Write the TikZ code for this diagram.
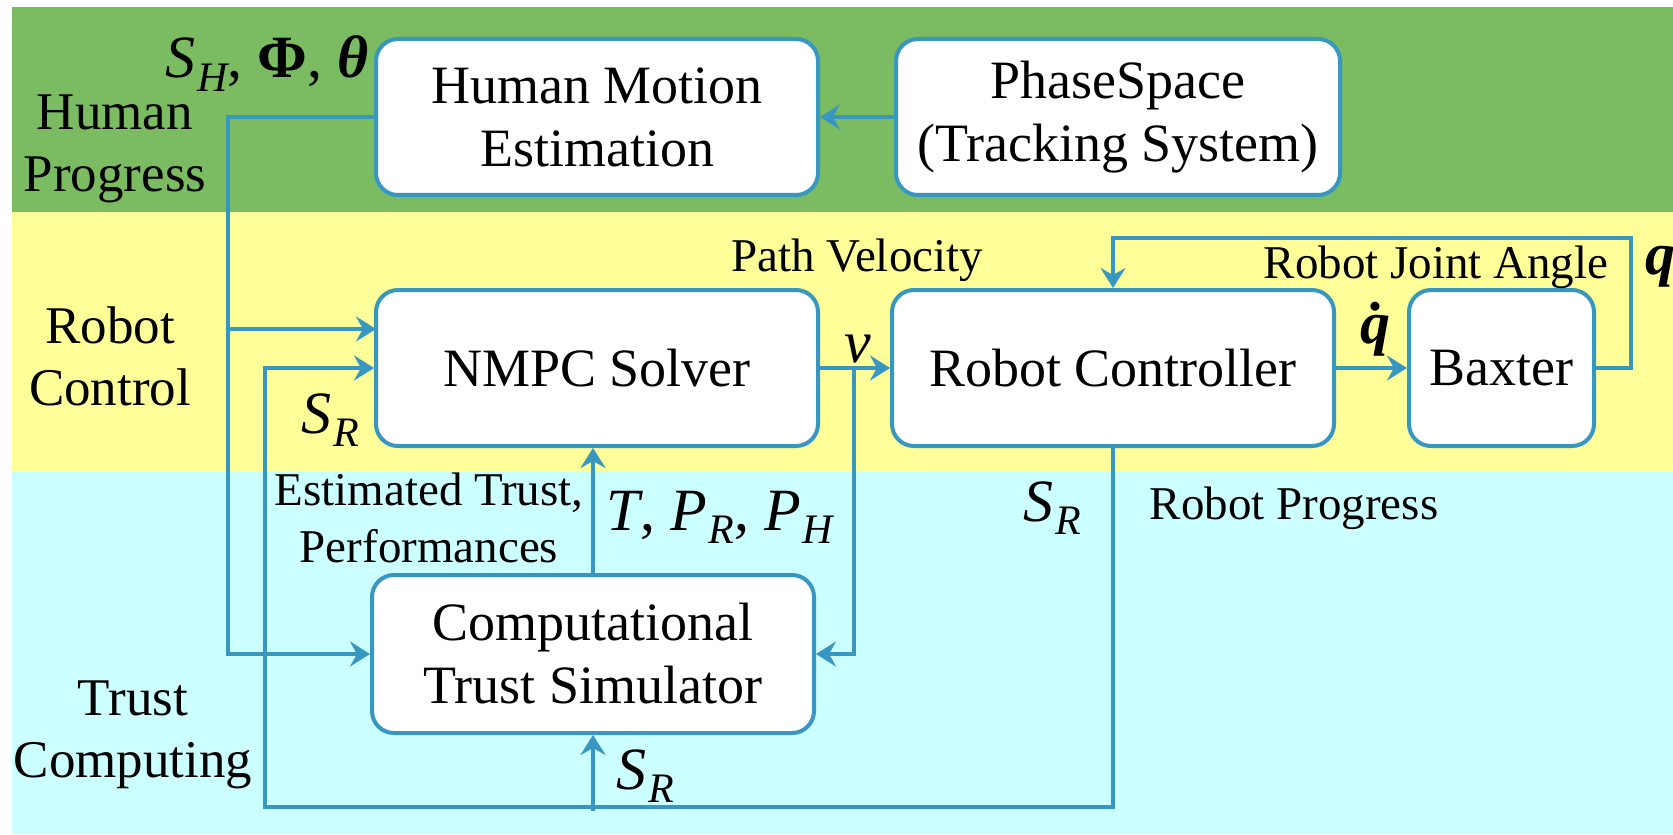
\documentclass[tikz,border=0pt]{standalone}
\usepackage{fontspec}
\usepackage{graphicx}
\setmainfont{Liberation Serif}
\usetikzlibrary{arrows.meta,calc}

\definecolor{bandgreen}{HTML}{7BBB62}
\definecolor{bandyellow}{HTML}{FFFF99}
\definecolor{bandcyan}{HTML}{CCFFFF}
\definecolor{wire}{HTML}{3797C0}

% italic symbol with a lowered italic subscript
\newcommand{\isub}[2]{{\itshape #1}\kern0.03em\raisebox{-0.22em}{{\fontsize{21}{21}\selectfont\itshape #2}}}

\tikzset{
  block/.style={draw=wire, line width=2pt, fill=white, rounded corners=11pt,
    align=center, inner sep=0pt, font=\fontsize{27}{31.5}\selectfont},
  wireline/.style={draw=wire, line width=2pt},
  arr/.style={wireline, -{Stealth[length=10pt,width=12.5pt,inset=3.5pt]}},
  bandlabel/.style={align=center, inner sep=0pt, font=\fontsize{26.5}{31}\selectfont},
  note/.style={align=center, inner sep=0pt, font=\fontsize{23.5}{28.5}\selectfont},
  sym/.style={inner sep=0pt, font=\fontsize{30}{30}\selectfont}
}

\begin{document}
\begin{tikzpicture}[x=0.5pt, y=-0.5pt]
  % canvas and the three bands
  \fill[white] (0,0) rectangle (1673,834);
  \useasboundingbox (0,0) rectangle (1673,834);
  \fill[bandgreen]  (12,7)   rectangle (1673,212);
  \fill[bandyellow] (12,212) rectangle (1673,472);
  \fill[bandcyan]   (12,472) rectangle (1673,834);

  % band titles
  \node[bandlabel] (lhp) at (115,149) {Human\\Progress};
  \node[bandlabel] (lrc) at (110,356) {Robot\\Control};
  \node[bandlabel] (ltc) at (133,735) {Trust\\Computing};

  % blocks
  \node[block, minimum width=221pt, minimum height=78pt] (hme) at (597,117) {Human Motion\\Estimation};
  \node[block, minimum width=222pt, minimum height=78pt] (ps)  at (1118,117) {PhaseSpace\\(Tracking System)};
  \node[block, minimum width=221pt, minimum height=78pt] (nmpc) at (597,368) {NMPC Solver};
  \node[block, minimum width=221pt, minimum height=78pt] (rc)  at (1113,368) {Robot Controller};
  \node[block, minimum width=92.5pt, minimum height=78pt] (bx) at (1501.5,368) {Baxter};
  \node[block, minimum width=221pt, minimum height=79pt] (cts) at (593,654) {Computational\\Trust Simulator};

  % routing points
  \coordinate (hl)  at (228,117);
  \coordinate (nin) at (376,329);
  \coordinate (lb)  at (265,807);
  \coordinate (vb)  at (854,368);
  \coordinate (fb)  at (1631,238);

  % tracking data to motion estimation
  \draw[arr] (ps.west) -- (hme.east);
  % human progress to the trust simulator and the solver
  \draw[arr] (hme.west) -- (hl) |- (cts.west);
  \draw[arr] (hl |- nin) -- (nin);
  % robot progress back to the solver and the trust simulator
  \draw[arr] (rc.south) |- (lb) |- (nmpc.west);
  \draw[arr] ($(cts.south |- lb)+(0,4)$) -- (cts.south);
  % estimated trust and performances
  \draw[arr] (cts.north) -- (cts.north |- nmpc.south);
  % path velocity
  \draw[arr] (nmpc.east) -- (rc.west);
  \draw[arr] (vb) |- (cts.east);
  % joint velocity and joint angle feedback
  \draw[arr] (rc.east) -- (bx.west);
  \draw[arr] (bx.east) -| (fb) -| (rc.north);

  % signal names
  \node[sym, anchor=base] (shp) at (267,78) {\isub{S}{H}, {\bfseries Φ}, {\bfseries\itshape θ}};
  \node[sym, anchor=base] (sr1) at (330,433) {\isub{S}{R}};
  \node[sym, anchor=base] (tpp) at (720,530) {{\itshape T}, \isub{P}{R}, \isub{P}{H}};
  \node[sym, anchor=base] (sr2) at (1052,521) {\isub{S}{R}};
  \node[sym, anchor=base] (sr3) at (645,789) {\isub{S}{R}};
  \node[sym, anchor=base] (vel) at (858,362) {\itshape v};
  \node[sym, anchor=base] (qd)  at (1375,343) {\bfseries\itshape \.{q}};
  \node[sym, anchor=base west] (qq) at (1645,274) {\bfseries\itshape q};

  % signal descriptions
  \node[note, anchor=base] (pv)  at (857,271) {Path Velocity};
  \node[note, anchor=base] (rja) at (1436,278) {Robot Joint Angle};
  \node[note, anchor=base] (rp)  at (1294,519) {Robot Progress};
  \node[note] (etp) at (429,518) {Estimated Trust,\\Performances};
\end{tikzpicture}
\end{document}
